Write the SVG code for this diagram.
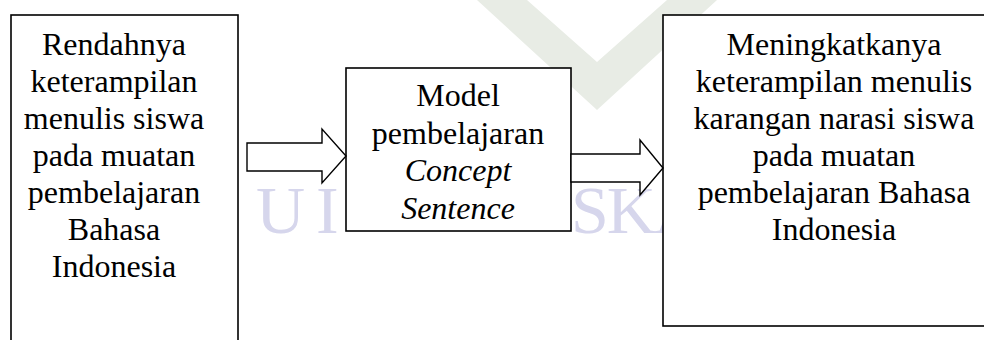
<svg xmlns="http://www.w3.org/2000/svg" width="984" height="340" viewBox="0 0 984 340">
  <style>
    .box { fill: #ffffff; stroke: #000000; stroke-width: 1.6; }
    .arrow { fill: #ffffff; stroke: #000000; stroke-width: 1.4; stroke-linejoin: miter; }
    .t { font-family: "Liberation Serif", "Times New Roman", serif; font-size: 32px; fill: #000000; text-anchor: middle; }
    .it { font-style: italic; }
    .wm { font-family: "Liberation Serif", "Times New Roman", serif; font-size: 68px; fill: #d6d6ec; }
  </style>
  <rect x="0" y="0" width="984" height="340" fill="#ffffff"/>
  <g id="watermark">
    <polygon points="477,0 597,110 717,0 667,0 597,62 527,0" fill="#e8ece5"/>
    <text class="wm" x="256" y="233" letter-spacing="11">UI</text>
    <text class="wm" x="571" y="233" letter-spacing="-2">SKA</text>
  </g>
  <g id="node-rendahnya">
    <rect class="box" x="11" y="15" width="227" height="340"/>
    <text class="t" x="114" y="55">Rendahnya</text>
    <text class="t" x="114" y="92">keterampilan</text>
    <text class="t" x="114" y="129">menulis siswa</text>
    <text class="t" x="114" y="166">pada muatan</text>
    <text class="t" x="114" y="203">pembelajaran</text>
    <text class="t" x="114" y="240">Bahasa</text>
    <text class="t" x="114" y="277">Indonesia</text>
  </g>
  <g id="node-model">
    <rect class="box" x="346" y="68" width="225" height="163"/>
    <text class="t" x="458" y="106">Model</text>
    <text class="t" x="458" y="144">pembelajaran</text>
    <text class="t it" x="458" y="181">Concept</text>
    <text class="t it" x="458" y="219">Sentence</text>
  </g>
  <g id="node-meningkatkanya">
    <rect class="box" x="663" y="15" width="340" height="311"/>
    <text class="t" x="834" y="55">Meningkatkanya</text>
    <text class="t" x="834" y="92">keterampilan menulis</text>
    <text class="t" x="834" y="129">karangan narasi siswa</text>
    <text class="t" x="834" y="166">pada muatan</text>
    <text class="t" x="834" y="203">pembelajaran Bahasa</text>
    <text class="t" x="834" y="240">Indonesia</text>
  </g>
  <g id="connectors">
    <polygon class="arrow" points="247,143 322,143 322,129 346,156 322,183 322,171 247,171"/>
    <polygon class="arrow" points="571,154 640,154 640,140 663,168 640,195 640,182 571,182"/>
  </g>
</svg>
